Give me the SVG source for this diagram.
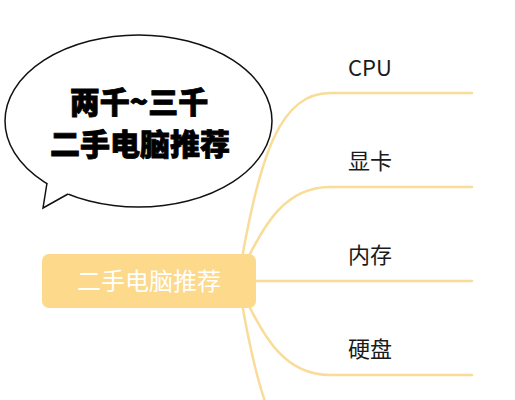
<svg xmlns="http://www.w3.org/2000/svg" width="515" height="400" viewBox="0 0 515 400">
  <style>
    .conn { fill: none; stroke: #F8DC98; stroke-width: 2.5; stroke-linecap: round; }
    .label { font-family: "Noto Sans CJK SC", "Noto Sans", sans-serif; font-size: 22px; fill: #1a1a1a; text-anchor: middle; }
    .bubble-text { font-family: "Noto Sans CJK SC", sans-serif; font-size: 30px; font-weight: 900; fill: #000; stroke: #000; stroke-width: 0.8; text-anchor: middle; }
    .root-text { font-family: "Noto Sans CJK SC", sans-serif; font-size: 24px; fill: #ffffff; text-anchor: middle; }
  </style>
  <rect width="515" height="400" fill="#ffffff"/>
  <g id="connectors">
    <path class="conn" d="M 240 270 C 260 150, 282 93, 330 93 L 472 93"/>
    <path class="conn" d="M 246 262 C 264 225, 285 187, 330 187 L 472 187"/>
    <path class="conn" d="M 250 281 L 472 281"/>
    <path class="conn" d="M 246 300 C 264 337, 285 375, 330 375 L 472 375"/>
    <path class="conn" d="M 240 292 C 260 412, 282 469, 330 469"/>
  </g>
  <g id="bubble">
    <ellipse cx="138.5" cy="121" rx="133.5" ry="86" fill="#ffffff" stroke="#111" stroke-width="1.5"/>
    <polygon points="47.5,182 43,208 69,193.5 60,186" fill="#ffffff"/>
    <polyline points="47,183 43,208 68,194" fill="none" stroke="#111" stroke-width="1.5" stroke-linejoin="miter"/>
    <text class="bubble-text" x="139" y="113">两千~三千</text>
    <text class="bubble-text" x="140" y="155">二手电脑推荐</text>
  </g>
  <g id="root">
    <rect x="42" y="254" width="214" height="54" rx="7" fill="#FCD98B"/>
    <text class="root-text" x="149" y="290">二手电脑推荐</text>
  </g>
  <g id="node-cpu"><text class="label" x="370" y="76">CPU</text></g>
  <g id="node-gpu"><text class="label" x="370" y="169">显卡</text></g>
  <g id="node-ram"><text class="label" x="370" y="263">内存</text></g>
  <g id="node-disk"><text class="label" x="370" y="357">硬盘</text></g>
</svg>
